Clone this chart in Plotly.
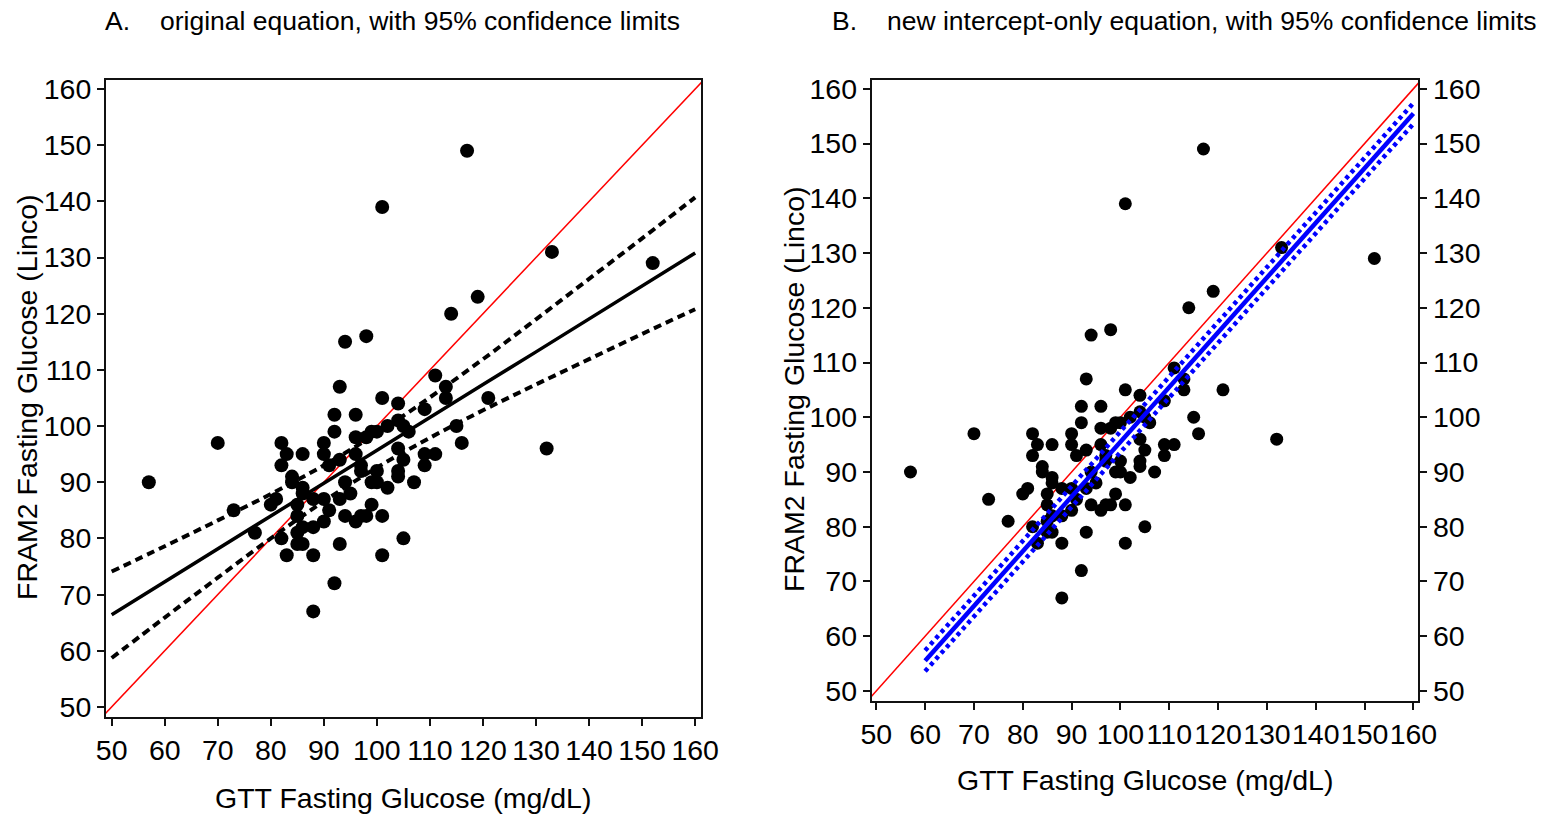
import plotly.graph_objects as go

W, H = 1543, 815

# ---- data ----
gtt = [117, 101, 133, 152, 119, 114, 98, 94, 111, 113, 113, 93, 121, 101, 104, 109, 115, 116, 132,
       57, 70, 73, 77, 88, 92, 101, 88, 83, 93, 105, 107, 109, 111, 109,
       92, 96, 92, 82, 83, 82, 86, 90, 90, 91, 93,
       96, 98, 99, 100, 102, 104, 105, 106,
       96, 97, 97, 99, 94, 95, 93, 94, 96, 97, 98, 99, 101, 100, 100, 102, 104, 104, 104, 105,
       86, 86, 84, 84, 80, 81, 82, 85, 85, 86,
       85, 85, 86, 88, 90, 91, 90, 88]
fram = [149, 139, 131, 129, 123, 120, 116, 115, 109, 107, 105, 107, 105, 105, 104, 103, 100, 97, 96,
        90, 97, 85, 81, 67, 72, 77, 77, 77, 79, 80, 90, 95, 95, 93,
        102, 102, 99, 97, 95, 93, 95, 97, 95, 93, 94,
        98, 98, 99, 99, 100, 101, 100, 99,
        95, 93, 92, 90, 90, 88, 87, 84, 83, 84, 84, 86, 84, 92, 90, 89, 92, 91, 96, 94,
        89, 88, 91, 90, 86, 87, 80, 81, 79, 79,
        86, 84, 82, 82, 83, 85, 87, 87]

# panel A: original regression line with 95% confidence limits
fit_x_a = [50, 60, 70, 80, 90, 100, 110, 120, 130, 140, 150, 160]
fit_a = [66.4, 72.3, 78.1, 84.0, 89.8, 95.7, 101.5, 107.4, 113.2, 119.1, 124.9, 130.8]
upper_a = [74.1, 78.6, 83.2, 87.9, 93.0, 98.7, 105.1, 111.9, 119.0, 126.2, 133.4, 140.7]
lower_a = [58.7, 65.9, 73.0, 80.0, 86.6, 92.6, 97.9, 102.8, 107.4, 111.9, 116.4, 120.8]

# panel B: intercept-only equation with 95% confidence limits
fit_x_b = [60, 160]
fit_b = [55.5, 155.5]
upper_b = [57.4, 157.4]
lower_b = [53.6, 153.6]

identity = [40, 170]
ticks = [50, 60, 70, 80, 90, 100, 110, 120, 130, 140, 150, 160]

FONT = "Liberation Sans, Arial, sans-serif"
TICKF = dict(family=FONT, size=28.5, color="black")

fig = go.Figure()

# ---------- panel A ----------
fig.add_trace(go.Scatter(x=identity, y=identity, mode="lines",
                         line=dict(color="red", width=1.5), xaxis="x", yaxis="y"))
fig.add_trace(go.Scatter(x=gtt, y=fram, mode="markers",
                         marker=dict(color="black", size=14), xaxis="x", yaxis="y"))
fig.add_trace(go.Scatter(x=fit_x_a, y=upper_a, mode="lines", line_shape="spline",
                         line=dict(color="black", width=4, dash="8px,5px"), xaxis="x", yaxis="y"))
fig.add_trace(go.Scatter(x=fit_x_a, y=lower_a, mode="lines", line_shape="spline",
                         line=dict(color="black", width=4, dash="8px,5px"), xaxis="x", yaxis="y"))
fig.add_trace(go.Scatter(x=fit_x_a, y=fit_a, mode="lines",
                         line=dict(color="black", width=3.5), xaxis="x", yaxis="y"))

# ---------- panel B ----------
fig.add_trace(go.Scatter(x=identity, y=identity, mode="lines",
                         line=dict(color="red", width=1.5), xaxis="x2", yaxis="y2"))
fig.add_trace(go.Scatter(x=gtt, y=fram, mode="markers",
                         marker=dict(color="black", size=13), xaxis="x2", yaxis="y2"))
fig.add_trace(go.Scatter(x=fit_x_b, y=upper_b, mode="lines",
                         line=dict(color="#0000FF", width=4.5, dash="4px,4px"), xaxis="x2", yaxis="y2"))
fig.add_trace(go.Scatter(x=fit_x_b, y=lower_b, mode="lines",
                         line=dict(color="#0000FF", width=4.5, dash="4px,4px"), xaxis="x2", yaxis="y2"))
fig.add_trace(go.Scatter(x=fit_x_b, y=fit_b, mode="lines",
                         line=dict(color="#0000FF", width=4.5), xaxis="x2", yaxis="y2"))
# invisible trace so the right-hand y axis of panel B is drawn
fig.add_trace(go.Scatter(x=gtt, y=fram, mode="markers", marker=dict(opacity=0),
                         hoverinfo="skip", xaxis="x2", yaxis="y3"))

ax_common = dict(showgrid=False, zeroline=False, showline=True, linecolor="#111", linewidth=2,
                 ticks="outside", ticklen=7, tickwidth=2, tickcolor="#111", automargin=False,
                 tickangle=0, tickvals=ticks, ticktext=[str(t) for t in ticks], tickfont=TICKF)

fig.update_layout(
    width=W, height=H, margin=dict(l=0, r=0, t=0, b=0, autoexpand=False),
    paper_bgcolor="white", plot_bgcolor="white", showlegend=False,
    xaxis=dict(domain=[106 / W, 701 / W], range=[48.93, 161.1], anchor="y", mirror=True, **ax_common),
    yaxis=dict(domain=[1 - 717 / H, 1 - 80 / H], range=[48.2, 161.6], anchor="x", mirror=True,
               ticklabelstandoff=0, **ax_common),
    xaxis2=dict(domain=[871.7 / W, 1418.3 / W], range=[49.06, 161.0], anchor="y2", mirror=True, **ax_common),
    yaxis2=dict(domain=[1 - 701 / H, 1 - 80 / H], range=[48.17, 161.6], anchor="x2", mirror=True,
                ticklabelstandoff=0, **ax_common),
    yaxis3=dict(overlaying="y2", side="right", anchor="x2", range=[48.17, 161.6],
                ticklabelstandoff=0, **ax_common),
)

ann = []
def txt(s, x, y, size, xanchor="center", angle=0):
    ann.append(dict(text=s, x=x / W, y=1 - y / H, xref="paper", yref="paper", showarrow=False,
                    xanchor=xanchor, yanchor="middle", textangle=angle,
                    font=dict(family=FONT, size=size, color="black")))

txt("A.", 103, 21, 26.5, "left")
txt("original equation, with 95% confidence limits", 158, 21, 26.5, "left")
txt("B.", 830, 21, 26.5, "left")
txt("new intercept-only equation, with 95% confidence limits", 885, 21, 26.5, "left")
txt("GTT Fasting Glucose (mg/dL)", 403, 798, 28.5)
txt("GTT Fasting Glucose (mg/dL)", 1145, 780, 28.5)
txt("FRAM2 Fasting Glucose (Linco)", 27, 398, 28.5, angle=-90)
txt("FRAM2 Fasting Glucose (Linco)", 794, 390, 28.5, angle=-90)
fig.update_layout(annotations=ann)

fig.write_html("out.html", config={"displayModeBar": False},
               post_script="document.body.style.margin='0';document.body.style.overflow='hidden';")
